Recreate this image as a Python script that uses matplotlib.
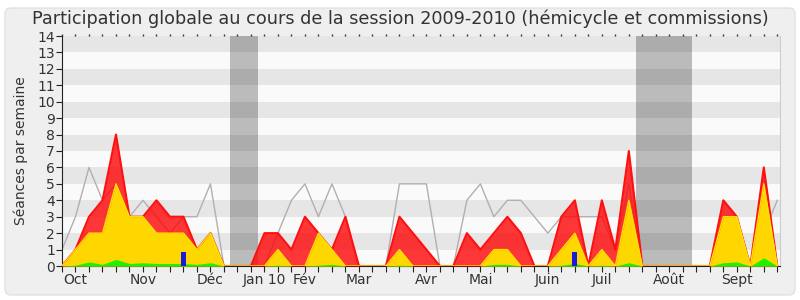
# -*- coding: utf-8 -*-
"""
Participation globale, session 2009-2010 (hemicycle et commissions)
"""

import numpy as np
import matplotlib
matplotlib.use('Agg')
import matplotlib.pyplot as plt
from matplotlib.patches import FancyBboxPatch

# Weekly values (one point per week, 54 weeks)
weeks = np.arange(54)

total = [0, 1, 3, 4, 8, 3, 3, 4, 3, 3, 1, 2, 0, 0, 0, 2, 2, 1, 3, 2,
         1, 3, 0, 0, 0, 3, 2, 1, 0, 0, 2, 1, 2, 3, 2, 0, 0, 3, 4, 0,
         4, 1, 7, 0, 0, 0, 0, 0, 0, 4, 3, 0, 6, 0]
commission = [0, 1, 2, 2, 5, 3, 3, 2, 2, 2, 1, 2, 0, 0, 0, 0, 1, 0, 0, 2,
              1, 0, 0, 0, 0, 1, 0, 0, 0, 0, 0, 0, 1, 1, 0, 0, 0, 1, 2, 0,
              1, 0, 4, 0, 0, 0, 0, 0, 0, 3, 3, 0, 5, 0]
interventions = [0, 0.05, 0.25, 0.1, 0.4, 0.15, 0.2, 0.15, 0.15, 0.15, 0.1, 0.2, 0, 0, 0, 0, 0.05, 0, 0, 0.05,
                 0.1, 0, 0, 0, 0, 0.05, 0, 0, 0, 0, 0, 0, 0.1, 0.1, 0, 0, 0, 0.05, 0.15, 0,
                 0.05, 0, 0.2, 0, 0, 0, 0, 0, 0, 0.2, 0.25, 0, 0.5, 0]
median = [1, 3, 6, 4, 5, 3, 4, 3, 2, 3, 3, 5, 0, 0, 0, 0, 2, 4, 5, 3,
          5, 3, 0, 0, 0, 5, 5, 5, 0, 0, 4, 5, 3, 4, 4, 3, 2, 3, 3, 3,
          3, 1, 5, 0, 0, 0, 0, 0, 0, 3, 3, 0, 2, 4]

# Questions orales (blue bars)
question_weeks = [9, 38]
question_vals = [0.85, 0.85]

# Holidays (in week units)
vacances = [(12.45, 14.5), (42.55, 46.65)]

month_weeks = [1, 6, 11, 15, 18, 22, 27, 31, 36, 40, 45, 50]
month_labels = ['Oct', 'Nov', 'Déc', 'Jan 10', 'Fév', 'Mar', 'Avr', 'Mai',
                'Juin', 'Juil', 'Août', 'Sept']

YMAX = 14

fig = plt.figure(figsize=(8, 3), dpi=100)
fig.patch.set_facecolor('white')
panel = FancyBboxPatch((5, 5), 790, 287, boxstyle='round,pad=0,rounding_size=6',
                       transform=None, facecolor='#efefef', edgecolor='#e2e2e2', lw=1,
                       zorder=-10)
fig.patches.append(panel)

ax = fig.add_axes([62 / 800, 34 / 300, 718 / 800, 230 / 300])
ax.set_zorder(5)
ax.set_facecolor('#fafafa')

# Alternating horizontal bands
for k in range(1, YMAX, 2):
    ax.axhspan(k, k + 1, color='#e6e6e6', lw=0, zorder=0)

# Holiday shading
for a, b in vacances:
    ax.axvspan(a, b, color='black', alpha=0.25, lw=0, zorder=1)

# Median line
ax.plot(weeks, median, color='#b0b0b0', lw=1, zorder=2)

# Stacked areas
ax.fill_between(weeks, 0, total, color='#ff0000', alpha=0.78, lw=0, zorder=3)
ax.plot(weeks, total, color='#ff1010', lw=1.5, zorder=3)
ax.fill_between(weeks, 0, commission, color='#ffd700', lw=0, zorder=4)
ax.plot(weeks, commission, color='#ffe000', lw=1, zorder=4)
ax.fill_between(weeks, 0, interventions, color='#22ee00', lw=0, zorder=5)
ax.bar(question_weeks, question_vals, width=0.37, color='#1a1add', zorder=6)

ax.set_xlim(0, 53.2)
ax.set_ylim(0, YMAX)

ax.set_yticks(range(YMAX + 1))
ax.set_xticks(weeks)
ax.set_xticklabels([month_labels[month_weeks.index(w)] if w in month_weeks else ''
                    for w in weeks])
ax.tick_params(axis='both', labelsize=10, colors='#222222', length=4, width=0.8,
               labelcolor='#333333')
ax.tick_params(axis='x', pad=1)
ax.tick_params(axis='y', pad=1)

# small dotted marks along the top
top = ax.secondary_xaxis('top')
top.set_xticks(weeks)
top.set_xticklabels([])
top.tick_params(length=1.5, width=1, colors='#333333')
top.spines['top'].set_visible(False)

ax.spines['top'].set_visible(False)
ax.spines['right'].set_color('#cccccc')
ax.spines['left'].set_color('#222222')
ax.spines['bottom'].set_color('#222222')

ax.set_ylabel('Séances par semaine', fontsize=10, color='#333333', labelpad=7)
fig.text(0.5, 0.937, 'Participation globale au cours de la session 2009-2010 (hémicycle et commissions)',
         ha='center', va='center', fontsize=12.7, color='#333333')

plt.savefig('out.png', dpi=100, facecolor=fig.get_facecolor())
plt.close()
